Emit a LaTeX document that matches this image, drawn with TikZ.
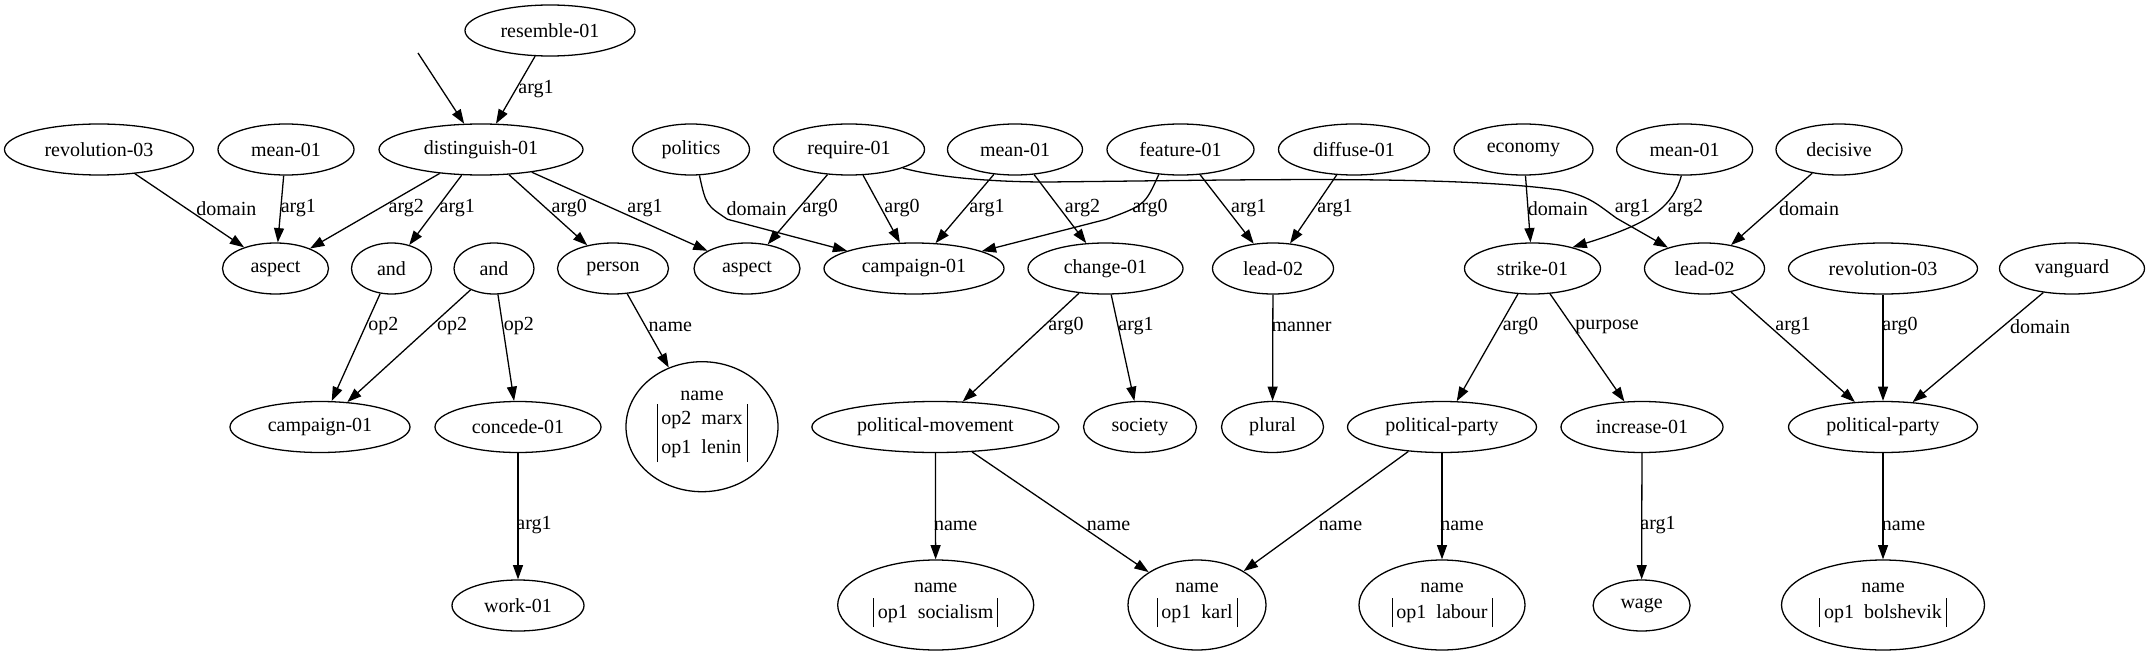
\documentclass[tikz,border=0pt]{standalone}
\usepackage{fontspec}
\setmainfont{Liberation Serif}
\usetikzlibrary{shapes.geometric,arrows.meta}
\newcommand{\fnt}{\fontsize{14}{16.8}\selectfont}
\newcommand{\nmrec}[1]{name\\[1pt]{\renewcommand\arraystretch{1.22}\begin{tabular}{@{}|@{\hspace{3pt}}l@{\hspace{3pt}}|@{}}#1\end{tabular}}}
\begin{document}
\begin{tikzpicture}[x=0.7pt,y=-0.7pt,
  nd/.style={draw, ellipse, line width=0.9pt, inner sep=0pt, minimum height=35.7pt, font=\fnt},
  wd/.style={minimum width=#1*0.7pt},
  ht/.style={minimum height=#1*0.7pt},
  rec/.style={align=center},
  lbl/.style={font=\fnt, inner sep=0pt},
  e/.style={line width=0.9pt, -{Triangle[length=10pt,width=7pt]}}]
\useasboundingbox (0,0) rectangle (2150,656);

% row 1
\node[nd, wd=170] (res) at (550,30.5) {resemble-01};
% row 2
\node[nd, wd=189] (rev1) at (99,149.5) {revolution-03};
\node[nd, wd=136] (mean1) at (286,149.5) {mean-01};
\node[nd, wd=204] (dist) at (481,149.5) {distinguish-01};
\node[nd, wd=117] (pol) at (691,149.5) {politics};
\node[nd, wd=151] (req) at (849,149.5) {require-01};
\node[nd, wd=135] (mean2) at (1015,149.5) {mean-01};
\node[nd, wd=147] (feat) at (1180.5,149.5) {feature-01};
\node[nd, wd=151] (diff) at (1354,149.5) {diffuse-01};
\node[nd, wd=139] (econ) at (1523.5,149.5) {economy};
\node[nd, wd=136] (mean3) at (1684.6,149.5) {mean-01};
\node[nd, wd=126] (dec) at (1839,149.5) {decisive};
% row 3
\node[nd, wd=106] (asp1) at (275.5,268.5) {aspect};
\node[nd, wd=80] (and1) at (391.5,268.5) {and};
\node[nd, wd=80] (and2) at (494,268.5) {and};
\node[nd, wd=111] (pers) at (613,268.5) {person};
\node[nd, wd=106] (asp2) at (747,268.5) {aspect};
\node[nd, wd=180] (camp1) at (914,268.5) {campaign-01};
\node[nd, wd=155] (chg) at (1105.5,268.5) {change-01};
\node[nd, wd=121] (lead1) at (1273,268.5) {lead-02};
\node[nd, wd=136] (strk) at (1532.5,268.5) {strike-01};
\node[nd, wd=120] (lead2) at (1704.5,268.5) {lead-02};
\node[nd, wd=189] (rev2) at (1883,268.5) {revolution-03};
\node[nd, wd=145] (vang) at (2072,268.5) {vanguard};
% row 4
\node[nd, wd=180] (camp2) at (320,427) {campaign-01};
\node[nd, wd=166] (conc) at (518,427) {concede-01};
\node[nd, rec, wd=152, ht=130] (nm1) at (702,426.7) {\nmrec{op2\ \ marx\\op1\ \ lenin}};
\node[nd, wd=247] (pm) at (935.4,427) {political-movement};
\node[nd, wd=113] (soc) at (1140,427) {society};
\node[nd, wd=102] (plur) at (1272.5,427) {plural};
\node[nd, wd=189] (pp1) at (1442,427) {political-party};
\node[nd, wd=162] (inc) at (1642,427) {increase-01};
\node[nd, wd=189] (pp2) at (1883,427) {political-party};
% row 5
\node[nd, wd=132] (work) at (518,605.5) {work-01};
\node[nd, rec, wd=196, ht=90] (nm2) at (935.7,605) {\nmrec{op1\ \ socialism}};
\node[nd, rec, wd=138, ht=90] (nm3) at (1197,605) {\nmrec{op1\ \ karl}};
\node[nd, rec, wd=166, ht=90] (nm4) at (1442,605) {\nmrec{op1\ \ labour}};
\node[nd, wd=97] (wage) at (1641.6,605.5) {wage};
\node[nd, rec, wd=203, ht=90] (nm5) at (1883,605) {\nmrec{op1\ \ bolshevik}};

\coordinate (top) at (418,53);

% edges row 1-2
\draw[e] (top) -- (dist);
\draw[e] (res) -- (dist);
\node[lbl] (l1) at (536,89) {arg1};

% edges row 2-3
\draw[e] (rev1) -- (asp1);
\draw[e] (mean1) -- (asp1);
\draw[e] (dist) -- (asp1);
\draw[e] (dist) -- (and1);
\draw[e] (dist) -- (pers);
\draw[e] (dist) -- (asp2);
\draw[e] (pol.-72) .. controls (706,205) .. (727.5,219.3) -- (camp1);
\draw[e] (req) -- (asp2);
\draw[e] (req) -- (camp1);
\draw[e] (mean2) -- (camp1);
\draw[e] (mean2) -- (chg);
\draw[e] (feat.-131) .. controls (1145,205) .. (1106.3,219.3) -- (camp1);
\draw[e] (feat) -- (lead1);
\draw[e] (diff) -- (lead1);
\draw[e] (econ) -- (strk);
\draw[e] (req.-19) .. controls (935,177) and (990,182) .. (1047,182)
   .. controls (1250,180) and (1450,175) .. (1560,190)
   .. controls (1590,196) and (1598,205) .. (1616.7,218.3) -- (lead2);
\draw[e] (mean3.-97) .. controls (1673,205) and (1655,222) .. (strk.28);
\draw[e] (dec) -- (lead2);

\node[lbl] (l2) at (226.4,208.3) {domain};
\node[lbl] (l3) at (298.4,208.3) {arg1};
\node[lbl] (l4) at (406.3,208.3) {arg2};
\node[lbl] (l5) at (457.3,208.3) {arg1};
\node[lbl] (l6) at (569.3,208.3) {arg0};
\node[lbl] (l7) at (645,208.3) {arg1};
\node[lbl] (l8) at (756.5,208.3) {domain};
\node[lbl] (l9) at (820.3,208.3) {arg0};
\node[lbl] (l10) at (902,208.3) {arg0};
\node[lbl] (l11) at (987,208.3) {arg1};
\node[lbl] (l12) at (1082.5,208.3) {arg2};
\node[lbl] (l13) at (1150,208.3) {arg0};
\node[lbl] (l14) at (1248.7,208.3) {arg1};
\node[lbl] (l15) at (1335,208.3) {arg1};
\node[lbl] (l16) at (1557.8,208.3) {domain};
\node[lbl] (l17) at (1632.5,208.3) {arg1};
\node[lbl] (l18) at (1685.5,208.3) {arg2};
\node[lbl] (l19) at (1809,208.3) {domain};

% edges row 3-4
\draw[e] (and1) -- (camp2);
\draw[e] (and2) -- (camp2);
\draw[e] (and2) -- (conc);
\draw[e] (pers) -- (nm1);
\draw[e] (chg) -- (pm);
\draw[e] (chg) -- (soc);
\draw[e] (lead1) -- (plur);
\draw[e] (strk) -- (pp1);
\draw[e] (strk) -- (inc);
\draw[e] (lead2) -- (pp2);
\draw[e] (rev2) -- (pp2);
\draw[e] (vang) -- (pp2);

\node[lbl] (l20) at (383.4,326.5) {op2};
\node[lbl] (l21) at (452.2,326.5) {op2};
\node[lbl] (l22) at (518.8,326.5) {op2};
\node[lbl] (l23) at (670.3,326.5) {name};
\node[lbl] (l24) at (1066,326.5) {arg0};
\node[lbl] (l25) at (1136,326.5) {arg1};
\node[lbl] (l26) at (1301.5,326.5) {manner};
\node[lbl] (l27) at (1520.5,326.5) {arg0};
\node[lbl] (l28) at (1607,326.5) {purpose};
\node[lbl] (l29) at (1793,326.5) {arg1};
\node[lbl] (l30) at (1900,326.5) {arg0};
\node[lbl] (l31) at (2040,326.5) {domain};

% edges row 4-5
\draw[e] (conc) -- (work);
\draw[e] (pm) -- (nm2);
\draw[e] (pm) -- (nm3);
\draw[e] (pp1) -- (nm3);
\draw[e] (pp1) -- (nm4);
\draw[e] (inc) -- (wage);
\draw[e] (pp2) -- (nm5);

\node[lbl] (l32) at (534,525.5) {arg1};
\node[lbl] (l33) at (955.7,525.5) {name};
\node[lbl] (l34) at (1108.6,525.5) {name};
\node[lbl] (l35) at (1340.5,525.5) {name};
\node[lbl] (l36) at (1462,525.5) {name};
\node[lbl] (l37) at (1658,525.5) {arg1};
\node[lbl] (l38) at (1903.6,525.5) {name};
\end{tikzpicture}
\end{document}
